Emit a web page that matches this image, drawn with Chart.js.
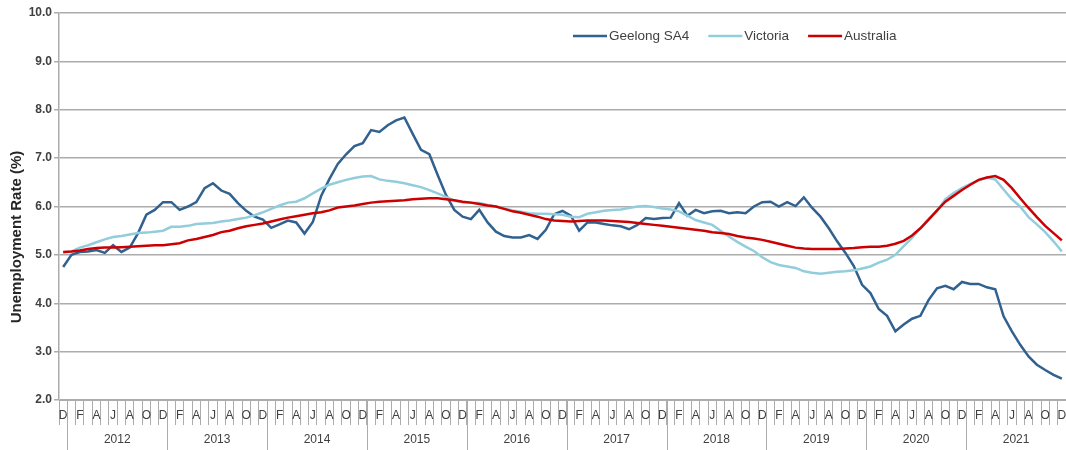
<!DOCTYPE html>
<html>
<head>
<meta charset="utf-8">
<script src="https://cdn.jsdelivr.net/npm/chart.js@4.4.1/dist/chart.umd.min.js"></script>
<style>
  html, body { margin: 0; padding: 0; background: #fff; }
  #wrap { width: 1066px; height: 450px; position: relative; }
</style>
</head>
<body>
<div id="wrap"><canvas id="c"></canvas></div>
<script>
// monthly series, Dec 2011 .. Dec 2021
const years = ['2012', '2013', '2014', '2015', '2016', '2017', '2018', '2019', '2020', '2021'];
const monthNames = ['Jan', 'Feb', 'Mar', 'Apr', 'May', 'Jun', 'Jul', 'Aug', 'Sep', 'Oct', 'Nov', 'Dec'];

const geelong = [
  4.75, 5.00, 5.06, 5.07, 5.10, 5.04, 5.20, 5.06, 5.15, 5.45, 5.83, 5.93,
  6.09, 6.09, 5.93, 6.00, 6.09, 6.38, 6.48, 6.33, 6.26, 6.07, 5.91, 5.79,
  5.73, 5.56, 5.63, 5.71, 5.67, 5.44, 5.68, 6.22, 6.57, 6.88, 7.08, 7.25,
  7.31, 7.58, 7.54, 7.68, 7.78, 7.84, 7.50, 7.17, 7.08, 6.65, 6.24, 5.93,
  5.79, 5.74, 5.93, 5.67, 5.48, 5.39, 5.36, 5.36, 5.41, 5.33, 5.52, 5.84,
  5.91, 5.81, 5.50, 5.67, 5.67, 5.64, 5.61, 5.59, 5.53, 5.62, 5.76, 5.74,
  5.76, 5.77, 6.07, 5.81, 5.93, 5.86, 5.90, 5.91, 5.86, 5.88, 5.86, 6.00,
  6.09, 6.10, 6.00, 6.09, 6.01, 6.19, 5.97, 5.79, 5.55, 5.28, 5.04, 4.77,
  4.38, 4.21, 3.88, 3.74, 3.42, 3.56, 3.68, 3.74, 4.07, 4.31, 4.36, 4.29,
  4.44, 4.40, 4.40, 4.33, 4.29, 3.73, 3.42, 3.14, 2.90, 2.73, 2.62, 2.52,
  2.44
];
const victoria = [
  5.05, 5.07, 5.15, 5.20, 5.26, 5.32, 5.37, 5.39, 5.42, 5.45, 5.46, 5.48,
  5.50, 5.58, 5.58, 5.60, 5.64, 5.65, 5.66, 5.69, 5.71, 5.74, 5.77, 5.82,
  5.88, 5.95, 6.02, 6.08, 6.10, 6.17, 6.27, 6.37, 6.45, 6.50, 6.55, 6.59,
  6.62, 6.63, 6.56, 6.53, 6.51, 6.48, 6.44, 6.40, 6.34, 6.27, 6.20, 6.12,
  6.09, 6.08, 6.07, 6.03, 6.00, 5.96, 5.92, 5.89, 5.86, 5.85, 5.85, 5.84,
  5.83, 5.79, 5.78, 5.85, 5.88, 5.91, 5.93, 5.94, 5.97, 6.00, 6.01, 5.99,
  5.96, 5.94, 5.90, 5.81, 5.72, 5.67, 5.62, 5.50, 5.38, 5.27, 5.17, 5.08,
  4.95, 4.85, 4.79, 4.76, 4.73, 4.66, 4.63, 4.61, 4.63, 4.65, 4.66, 4.68,
  4.72, 4.76, 4.84, 4.90, 5.00, 5.18, 5.35, 5.55, 5.75, 5.90, 6.15, 6.28,
  6.38, 6.47, 6.54, 6.60, 6.56, 6.35, 6.15, 6.00, 5.78, 5.63, 5.47, 5.28,
  5.07
];
const australia = [
  5.06, 5.07, 5.09, 5.12, 5.14, 5.15, 5.15, 5.16, 5.17, 5.18, 5.19, 5.20,
  5.20, 5.22, 5.24, 5.30, 5.33, 5.37, 5.41, 5.47, 5.50, 5.55, 5.59, 5.62,
  5.65, 5.69, 5.73, 5.77, 5.80, 5.83, 5.86, 5.88, 5.92, 5.98, 6.00, 6.02,
  6.05, 6.08, 6.10, 6.11, 6.12, 6.13, 6.15, 6.16, 6.17, 6.17, 6.15, 6.13,
  6.10, 6.08, 6.05, 6.02, 6.00, 5.95, 5.90, 5.87, 5.83, 5.79, 5.74, 5.71,
  5.70, 5.69, 5.70, 5.71, 5.71, 5.71, 5.70, 5.69, 5.68, 5.66, 5.64, 5.62,
  5.60, 5.58, 5.56, 5.54, 5.52, 5.50, 5.47, 5.45, 5.43, 5.39, 5.36, 5.34,
  5.31, 5.27, 5.23, 5.19, 5.15, 5.13, 5.12, 5.12, 5.12, 5.12, 5.13, 5.14,
  5.16, 5.17, 5.17, 5.19, 5.23, 5.29, 5.40, 5.55, 5.73, 5.92, 6.10, 6.22,
  6.34, 6.45, 6.55, 6.60, 6.63, 6.55, 6.38, 6.17, 5.97, 5.78, 5.60, 5.45,
  5.30
];

// category labels: Dec 2011 then every month of each year
const months = ['Dec 2011'];
years.forEach(y => monthNames.forEach(m => months.push(m + ' ' + y)));

const FONT = '"Liberation Sans", Arial, sans-serif';
const TEXT = '#404040';
const GRID = '#acacac';

// year row under the month letters + legend + y title
const decorations = {
  id: 'decorations',
  afterDraw(chart) {
    const ctx = chart.ctx;
    const xs = chart.scales.x;
    const top = xs.top;
    ctx.save();

    // year dividers and labels
    ctx.strokeStyle = GRID;
    ctx.lineWidth = 1;
    ctx.font = '12px ' + FONT;
    ctx.fillStyle = TEXT;
    ctx.textAlign = 'center';
    ctx.textBaseline = 'middle';
    years.forEach((yr, k) => {
      const jan = 1 + 12 * k, dec = 12 + 12 * k;
      const edge = Math.round((xs.getPixelForValue(jan - 1) + xs.getPixelForValue(jan)) / 2) + 0.5;
      ctx.beginPath();
      ctx.moveTo(edge, top);
      ctx.lineTo(edge, chart.height);
      ctx.stroke();
      const cx = (xs.getPixelForValue(jan) + xs.getPixelForValue(dec)) / 2;
      ctx.fillText(yr, cx, top + 40);
    });

    // legend
    ctx.font = '13.5px ' + FONT;
    ctx.textAlign = 'left';
    let lx = 573;
    const ly = 36;
    chart.data.datasets.forEach(ds => {
      ctx.strokeStyle = ds.borderColor;
      ctx.lineWidth = 2.5;
      ctx.beginPath();
      ctx.moveTo(lx, ly);
      ctx.lineTo(lx + 34, ly);
      ctx.stroke();
      ctx.fillStyle = TEXT;
      ctx.fillText(ds.label, lx + 36, ly);
      lx += 36 + ctx.measureText(ds.label).width + 19;
    });

    // y axis title
    ctx.translate(17, 237);
    ctx.rotate(-Math.PI / 2);
    ctx.textAlign = 'center';
    ctx.font = 'bold 15px ' + FONT;
    ctx.fillStyle = '#262626';
    ctx.fillText('Unemployment Rate (%)', 0, 0);
    ctx.restore();
  }
};

new Chart(document.getElementById('c'), {
  type: 'line',
  data: {
    labels: months,
    datasets: [
      { label: 'Geelong SA4', data: geelong, borderColor: '#31618f', order: 3 },
      { label: 'Victoria', data: victoria, borderColor: '#92cddc', order: 2 },
      { label: 'Australia', data: australia, borderColor: '#cc0000', order: 1 }
    ].map(d => Object.assign(d, { borderWidth: 2.5, pointRadius: 0, tension: 0, fill: false }))
  },
  options: {
    responsive: true,
    maintainAspectRatio: false,
    animation: false,
    layout: { padding: { top: 13, bottom: 25, left: 0, right: 0 } },
    plugins: { legend: { display: false }, tooltip: { enabled: false } },
    scales: {
      x: {
        offset: true,
        afterFit: s => { s.height = 25; },
        grid: { offset: true, drawOnChartArea: false, drawTicks: true, tickLength: 25, color: GRID, lineWidth: 1 },
        border: { color: GRID, width: 1 },
        ticks: {
          autoSkip: false, maxRotation: 0, minRotation: 0, padding: -17,
          color: TEXT, font: { family: FONT, size: 12 },
          callback: (v, i) => i % 2 === 0 ? months[i].charAt(0) : ''
        }
      },
      y: {
        min: 2, max: 10,
        afterFit: s => { s.width = 59; },
        grid: { color: GRID, lineWidth: 1.5, tickLength: 5 },
        border: { color: GRID, width: 1.5 },
        ticks: {
          stepSize: 1, padding: 2, color: TEXT,
          font: { family: FONT, size: 12, weight: 'bold' },
          callback: v => v.toFixed(1)
        }
      }
    }
  },
  plugins: [decorations]
});
</script>
</body>
</html>
